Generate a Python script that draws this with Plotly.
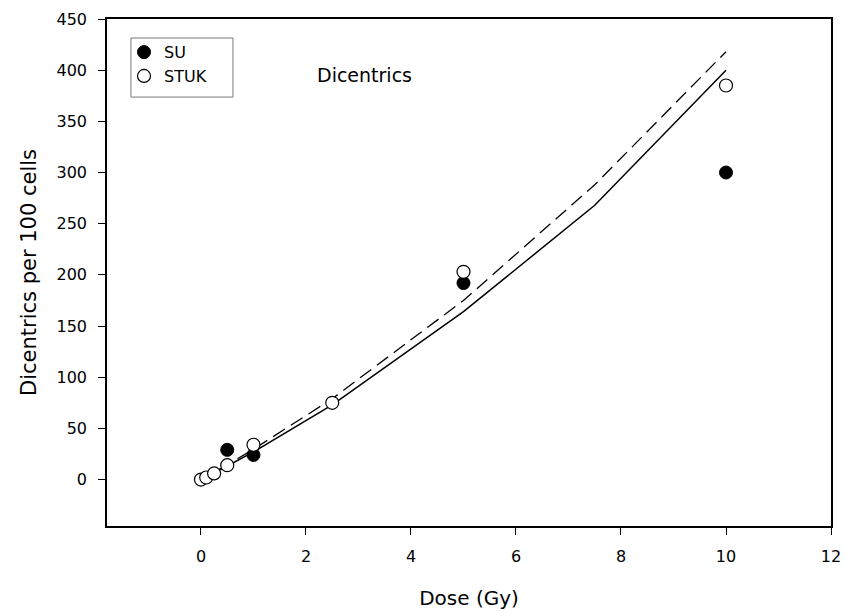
import plotly.graph_objects as go

# Data
su_dose = [0.5, 1, 5, 10]
su_dic = [29, 24, 192, 300]

stuk_dose = [0, 0.1, 0.25, 0.5, 1, 2.5, 5, 10]
stuk_dic = [0, 2, 6, 14, 34, 75, 203, 385]

fit_dose = [0, 0.25, 0.5, 1, 2.5, 5, 7.5, 10]
fit_solid = [0, 6.5, 13.2, 27, 73, 164, 268, 400]
fit_dashed = [0, 7.1, 14.4, 29.6, 79, 175, 288, 418]

x_ticks = [0, 2, 4, 6, 8, 10, 12]
y_ticks = [0, 50, 100, 150, 200, 250, 300, 350, 400, 450]

FONT = "DejaVu Sans, Liberation Sans, Arial, sans-serif"

fig = go.Figure()
fig.add_trace(go.Scatter(x=fit_dose, y=fit_dashed, mode="lines",
                         line=dict(color="black", width=1.3, dash="14px,7px"),
                         showlegend=False, hoverinfo="skip"))
fig.add_trace(go.Scatter(x=fit_dose, y=fit_solid, mode="lines",
                         line=dict(color="black", width=1.5),
                         showlegend=False, hoverinfo="skip"))
fig.add_trace(go.Scatter(x=su_dose, y=su_dic, mode="markers", name="SU",
                         marker=dict(symbol="circle", size=13, color="black",
                                     line=dict(color="black", width=1))))
fig.add_trace(go.Scatter(x=stuk_dose, y=stuk_dic, mode="markers", name="STUK",
                         marker=dict(symbol="circle", size=13, color="white",
                                     line=dict(color="black", width=1.2))))

fig.add_annotation(text="Dicentrics", x=0.355, y=0.915, xref="paper", yref="paper",
                   showarrow=False, font=dict(family=FONT, size=19, color="black"))

# legend frame
fig.add_shape(type="rect", xref="paper", yref="paper",
              x0=0.0331, x1=0.174, y0=0.846, y1=0.9625,
              line=dict(color="#777777", width=1), fillcolor="rgba(0,0,0,0)", layer="above")

fig.update_layout(
    width=845, height=612,
    margin=dict(l=107, r=14, t=19, b=86),
    paper_bgcolor="white", plot_bgcolor="white",
    font=dict(family=FONT, size=15, color="black"),
    legend=dict(x=0.0235, y=0.968, xanchor="left", yanchor="top",
                borderwidth=0, bgcolor="rgba(0,0,0,0)",
                font=dict(family=FONT, size=16), tracegroupgap=0,
                itemwidth=30),
    xaxis=dict(range=[-1.79, 12], tickvals=x_ticks, ticks="outside", ticklen=7,
               tickcolor="black", showline=True, linecolor="black", linewidth=1.5,
               mirror=True, showgrid=False, zeroline=False, automargin=False,
               tickfont=dict(family=FONT, size=16), ticklabelstandoff=8,
               title=dict(text="Dose (Gy)", font=dict(family=FONT, size=20), standoff=26)),
    yaxis=dict(range=[-45.4, 450], tickvals=y_ticks, ticks="outside", ticklen=7,
               tickcolor="black", showline=True, linecolor="black", linewidth=1.5,
               mirror=True, showgrid=False, zeroline=False, automargin=False,
               tickfont=dict(family=FONT, size=16), ticklabelstandoff=8,
               title=dict(text="Dicentrics per 100 cells", font=dict(family=FONT, size=21), standoff=14)),
)

fig.write_html("out.html")
